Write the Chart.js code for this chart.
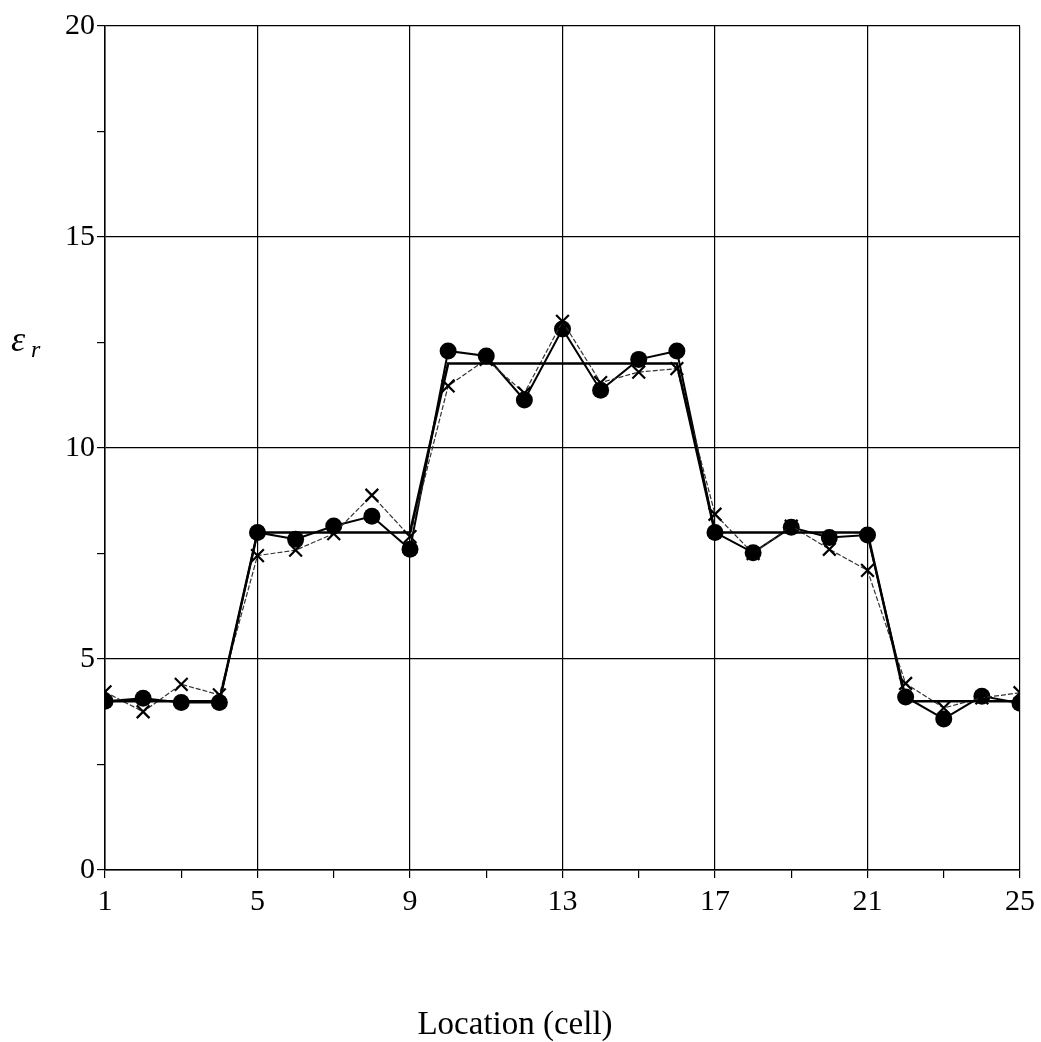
<!DOCTYPE html>
<html>
<head>
<meta charset="utf-8">
<script src="https://cdn.jsdelivr.net/npm/chart.js@4/dist/chart.umd.min.js"></script>
<style>
  html, body { margin: 0; padding: 0; background: #fff; }
  #wrap { width: 1041px; height: 1042px; }
</style>
</head>
<body>
<div id="wrap"><canvas id="c" width="1041" height="1042"></canvas></div>
<script>
// Cell index along the profile
const cells = [1,2,3,4,5,6,7,8,9,10,11,12,13,14,15,16,17,18,19,20,21,22,23,24,25];
// True permittivity profile
const trueProfile = [4,4,4,4,8,8,8,8,8,12,12,12,12,12,12,12,8,8,8,8,8,4,4,4,4];
// Reconstruction (filled circles)
const reconA = [4.0,4.07,3.97,3.97,8.0,7.84,8.15,8.38,7.6,12.3,12.18,11.14,12.82,11.37,12.1,12.3,8.0,7.52,8.12,7.88,7.94,4.1,3.58,4.12,3.95];
// Reconstruction (crosses)
const reconB = [4.22,3.75,4.4,4.15,7.45,7.58,7.97,8.88,7.9,11.47,12.1,11.3,13.0,11.55,11.8,11.88,8.43,7.5,8.15,7.6,7.1,4.42,3.84,4.08,4.2];
// Axis ticks
const xMajorTicks = [1,5,9,13,17,21,25];
const yMajorTicks = [0,5,10,15,20];
const xTitle = 'Location (cell)';

const pts = arr => cells.map((c, i) => ({ x: c, y: arr[i] }));
const serif = '"Liberation Serif", "DejaVu Serif", serif';

// Axis titles: horizontal italic epsilon with subscript r, and the x label
const titlesPlugin = {
  id: 'axisTitles',
  afterDraw(chart) {
    const ctx = chart.ctx;
    ctx.save();
    ctx.fillStyle = '#000';
    ctx.textBaseline = 'alphabetic';
    ctx.textAlign = 'left';
    ctx.font = 'italic 36px ' + serif;
    ctx.fillText('ε', 11, 351);
    ctx.font = 'italic 24px ' + serif;
    ctx.fillText('r', 31, 357);
    ctx.font = '33px ' + serif;
    ctx.textAlign = 'center';
    ctx.fillText(xTitle, 515, 1034);
    ctx.restore();
  }
};

new Chart(document.getElementById('c'), {
  type: 'line',
  data: {
    datasets: [
      {
        data: pts(trueProfile),
        borderColor: '#000',
        borderWidth: 2.5,
        pointRadius: 0,
        tension: 0,
        fill: false,
        clip: 0
      },
      {
        data: pts(reconB),
        borderColor: '#333',
        borderWidth: 1.2,
        borderDash: [5, 2],
        pointStyle: 'crossRot',
        pointRadius: 9,
        pointBorderWidth: 2.2,
        pointBorderColor: '#000',
        tension: 0,
        fill: false,
        clip: 0
      },
      {
        data: pts(reconA),
        borderColor: '#000',
        borderWidth: 2,
        pointStyle: 'circle',
        pointRadius: 8.5,
        pointBackgroundColor: '#000',
        pointBorderColor: '#000',
        pointBorderWidth: 0,
        tension: 0,
        fill: false,
        clip: 0
      }
    ]
  },
  options: {
    responsive: false,
    animation: false,
    devicePixelRatio: 1,
    layout: { padding: { left: 0, right: 21, top: 26, bottom: 0 } },
    plugins: { legend: { display: false }, tooltip: { enabled: false } },
    scales: {
      x: {
        type: 'linear',
        min: 1,
        max: 25,
        afterFit(scale) { scale.height = 172; },
        afterBuildTicks(scale) {
          const t = [];
          for (let v = 1; v <= 25; v += 2) t.push({ value: v });
          scale.ticks = t;
        },
        border: { color: '#000', width: 1.5 },
        grid: {
          color: ctx => xMajorTicks.includes(ctx.tick && ctx.tick.value) ? '#000' : 'rgba(0,0,0,0)',
          tickColor: '#000',
          tickLength: 8,
          lineWidth: 1.2
        },
        ticks: {
          autoSkip: false,
          maxRotation: 0,
          padding: 6,
          color: '#000',
          font: { family: serif, size: 30 },
          callback: v => xMajorTicks.includes(v) ? String(v) : ''
        }
      },
      y: {
        type: 'linear',
        min: 0,
        max: 20,
        afterFit(scale) { scale.width = 105; },
        afterBuildTicks(scale) {
          const t = [];
          for (let v = 0; v <= 20; v += 2.5) t.push({ value: v });
          scale.ticks = t;
        },
        border: { color: '#000', width: 1.5 },
        grid: {
          color: ctx => yMajorTicks.includes(ctx.tick && ctx.tick.value) ? '#000' : 'rgba(0,0,0,0)',
          tickColor: '#000',
          tickLength: 8,
          lineWidth: 1.2
        },
        ticks: {
          autoSkip: false,
          padding: 2,
          color: '#000',
          font: { family: serif, size: 30 },
          callback: v => yMajorTicks.includes(v) ? String(v) : ''
        }
      }
    }
  },
  plugins: [titlesPlugin]
});
</script>
</body>
</html>
